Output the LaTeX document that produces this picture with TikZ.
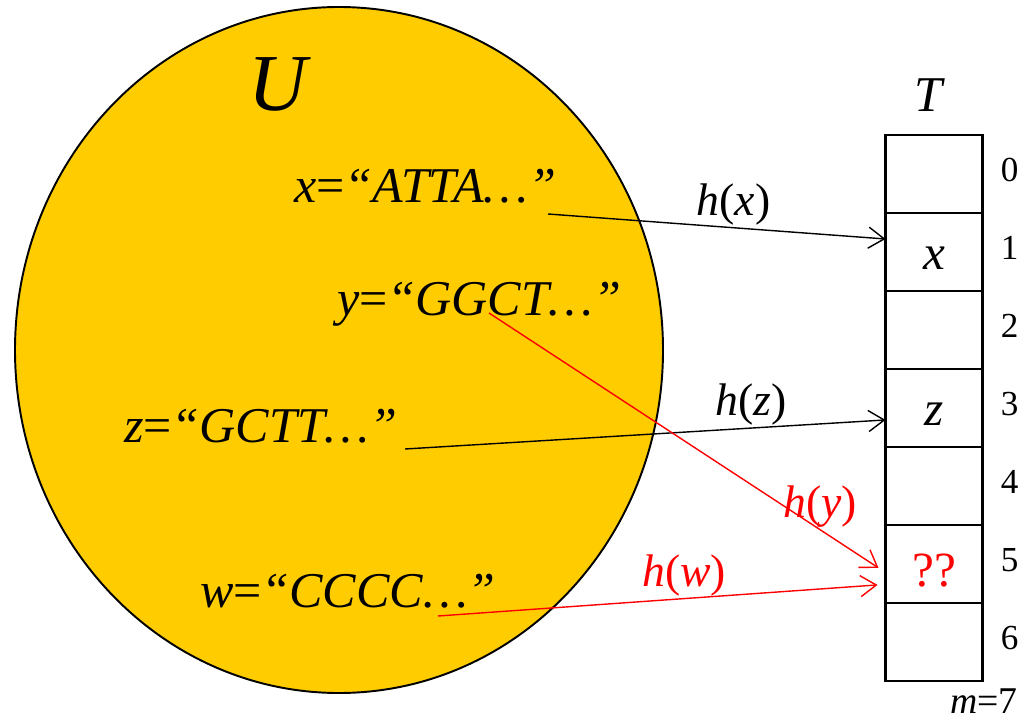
\documentclass[tikz,border=0pt]{standalone}
\usepackage{fontspec}
\setmainfont{Liberation Serif}
\usetikzlibrary{positioning,arrows.meta,calc}
\definecolor{setyellow}{HTML}{FFCC00}
\tikzset{
  >={Straight Barb[length=9pt,width=12pt]},
  key/.style={font=\fontsize{28.5}{32}\selectfont\itshape, inner sep=1pt},
  lab/.style={font=\fontsize{26}{30}\selectfont, inner sep=1pt},
  slot/.style={draw, line width=1.4pt, minimum width=1.94cm, minimum height=1.56cm,
    inner sep=0pt, outer sep=0pt, font=\fontsize{28}{32}\selectfont\itshape},
  idx/.style={font=\fontsize{20}{24}\selectfont, inner sep=0pt},
  hash/.style={->, line width=0.8pt},
  clash/.style={hash, red},
}
\newcommand{\cellkey}[2]{\raisebox{-#1}[0pt][0pt]{#2}}

\begin{document}
\begin{tikzpicture}[x=0.02cm, y=-0.02cm]
\useasboundingbox (0,0) rectangle (1024,723);
% the universe U
\draw[fill=setyellow, line width=1.1pt] (339,350) ellipse (324 and 343);
\node[font=\fontsize{46}{52}\selectfont\itshape] (U) at (278,84) {U};

\node[key, anchor=base west] (x) at (292,202) {x\textup{=}“ATTA…”};
\node[key, anchor=base west] (y) at (335,315) {y\textup{=}“GGCT…”};
\node[key, anchor=base west] (z) at (122,442) {z\textup{=}“GCTT…”};
\node[key, anchor=base west] (w) at (198,607) {w\textup{=}“CCCC…”};

% the table T
\node[slot] (c0) at (934,174) {};
\node[slot, below=0pt of c0] (c1) {\cellkey{9.9pt}{x}};
\node[slot, below=0pt of c1] (c2) {};
\node[slot, below=0pt of c2] (c3) {\cellkey{9.9pt}{z}};
\node[slot, below=0pt of c3] (c4) {};
\node[slot, below=0pt of c4] (c5) {\cellkey{13pt}{\textup{\color{red}??}}};
\node[slot, below=0pt of c5] (c6) {};

\node[key, above=0.42cm of c0, xshift=-0.12cm] (T) {T};
\node[idx, right=0.36cm of c0, yshift=0.08cm] (n0) {0};
\node[idx, right=0.36cm of c1, yshift=0.08cm] (n1) {1};
\node[idx, right=0.36cm of c2, yshift=0.08cm] (n2) {2};
\node[idx, right=0.36cm of c3, yshift=0.08cm] (n3) {3};
\node[idx, right=0.36cm of c4, yshift=0.08cm] (n4) {4};
\node[idx, right=0.36cm of c5, yshift=0.08cm] (n5) {5};
\node[idx, right=0.36cm of c6, yshift=0.08cm] (n6) {6};
\node[idx, font=\fontsize{21.5}{24}\selectfont, anchor=base east] (m) at (1018,713) {\textit{m}=7};

% hashing
\coordinate (xs) at (548,214);
\coordinate (ys) at (489,313);
\coordinate (zs) at (405,449);
\coordinate (ws) at (438,616);

\path[hash]
(xs) edge node[lab, above, pos=0.55]{\textit{h}(\textit{x})} ([yshift=0.26cm]c1.west)
(zs) edge node[lab, above, pos=0.72]{\textit{h}(\textit{z})} ([yshift=-0.24cm]c3.west);
\path[clash]
(ys) edge node[lab, red, above, pos=0.85]{\textit{h}(\textit{y})} ([xshift=-0.14cm,yshift=-0.08cm]c5.west)
(ws) edge node[lab, red, above, pos=0.56]{\textit{h}(\textit{w})} ([xshift=-0.16cm,yshift=-0.42cm]c5.west);
\end{tikzpicture}
\end{document}
